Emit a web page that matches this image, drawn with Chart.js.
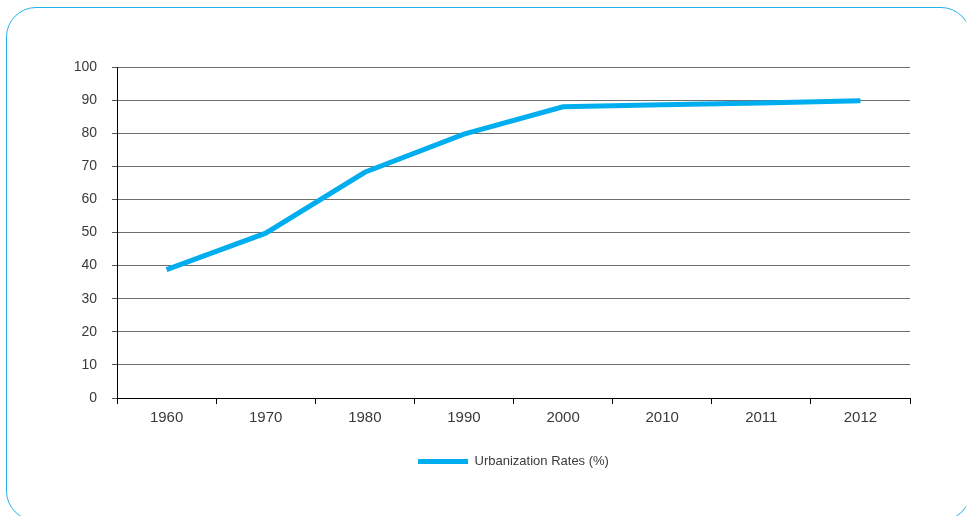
<!DOCTYPE html>
<html lang="en">
<head>
    <meta charset="UTF-8">
    <title>Urbanization Rates</title>
    <style>
        html, body { margin: 0; padding: 0; background: #fff; overflow: hidden; }
        #frame {
            position: absolute; left: 6px; top: 7px;
            width: 963px; height: 512px;
            border: 1.5px solid #25b2ea; border-radius: 30px;
        }
        #wrap { position: absolute; left: 0; top: 0; width: 966px; height: 516px; }
    </style>
</head>
<body>
    <div id="frame"></div>
    <div id="wrap">
        <canvas id="myChart"></canvas>
    </div>
    <script src="https://cdn.jsdelivr.net/npm/chart.js"></script>
    <script>
        // data
        const years = ['1960', '1970', '1980', '1990', '2000', '2010', '2011', '2012'];
        const urbanRates = [38.8, 49.8, 68.2, 79.7, 88.0, 88.6, 89.1, 89.8];
        const yMin = 0, yMax = 100, yStep = 10;

        const lineColor = '#00aeef';
        const textColor = '#3a3a3a';

        const ctx = document.getElementById('myChart');

        new Chart(ctx, {
            type: 'line',
            data: {
                labels: years,
                datasets: [{
                    label: 'Urbanization Rates (%)',
                    data: urbanRates,
                    borderColor: lineColor,
                    backgroundColor: lineColor,
                    borderWidth: 5,
                    pointRadius: 0,
                    tension: 0
                }]
            },
            options: {
                responsive: true,
                maintainAspectRatio: false,
                animation: false,
                layout: {
                    padding: { left: 60, right: 56, top: 67, bottom: 38 }
                },
                scales: {
                    x: {
                        offset: true,
                        afterFit: (s) => { s.height = 43; },
                        grid: {
                            offset: true,
                            drawOnChartArea: false,
                            drawTicks: true,
                            tickLength: 6,
                            color: '#000'
                        },
                        border: { color: '#000', width: 1 },
                        ticks: {
                            color: textColor,
                            padding: 5,
                            font: { family: 'Liberation Sans, Arial, sans-serif', size: 15 }
                        }
                    },
                    y: {
                        min: yMin,
                        max: yMax,
                        afterFit: (s) => { s.width = 57; },
                        grid: {
                            color: '#6e6e6e',
                            tickLength: 5,
                            tickColor: '#555'
                        },
                        border: { color: '#000', width: 1 },
                        ticks: {
                            stepSize: yStep,
                            color: textColor,
                            padding: 15,
                            font: { family: 'Liberation Sans, Arial, sans-serif', size: 14 }
                        }
                    }
                },
                plugins: {
                    legend: {
                        position: 'bottom',
                        fullSize: false,
                        labels: {
                            boxWidth: 50,
                            boxHeight: 5,
                            padding: 14,
                            color: textColor,
                            font: { family: 'Liberation Sans, Arial, sans-serif', size: 13 },
                            generateLabels: (chart) => Chart.defaults.plugins.legend.labels.generateLabels(chart)
                                .map(l => ({ ...l, lineWidth: 0, fillStyle: lineColor }))
                        }
                    },
                    tooltip: { enabled: false }
                }
            }
        });
    </script>
</body>
</html>
